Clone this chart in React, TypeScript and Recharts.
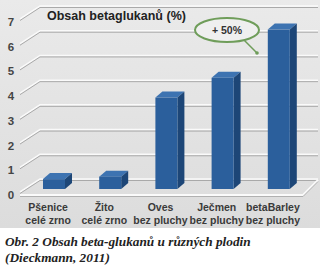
import { BarChart, Bar, XAxis, YAxis } from "recharts"

const crops = ["Pšenice", "Žito", "Oves", "Ječmen", "betaBarley"]
const cropNotes = ["celé zrno", "celé zrno", "bez pluchy", "bez pluchy", "bez pluchy"]
const betaGlucan = [0.4, 0.5, 3.7, 4.5, 6.45]
const yTicks = [0, 1, 2, 3, 4, 5, 6, 7]

const data = crops.map((name, i) => ({ name, note: cropNotes[i], value: betaGlucan[i] }))

const W = 320
const H = 228
const MARGIN = { top: 16, right: 13, left: 0, bottom: 0 }
const Y_W = 26
const X_H = 39
const PLOT_L = MARGIN.left + Y_W
const PLOT_R = W - MARGIN.right
const DEPTH = 7
const RISE = 6
const font = "Liberation Sans, Arial, sans-serif"

// y tick label + perspective grid line (left wall, then back wall)
function YTickGrid(props: any) {
  const { y, payload } = props
  const front = y + 4
  const back = y - 9
  const lx = PLOT_L - 6
  const bx = PLOT_L + 14
  const ex = PLOT_R + 11
  const isFloor = payload.value === 0
  return (
    <g>
      <polyline points={`${lx},${front - 1} ${bx},${back - 1} ${ex},${back - 1}`} fill="none" stroke="#fafafa" strokeWidth={1.5} />
      <polyline points={`${lx},${front + 0.5} ${bx},${back + 0.5} ${ex},${back + 0.5}`} fill="none" stroke="#a9a9a9" strokeWidth={1} />
      {isFloor && (
        <g>
          <polyline points={`${lx},${front + 2} ${PLOT_R - 4},${front + 2} ${ex},${back}`} fill="none" stroke="#fafafa" strokeWidth={2} />
          <polyline points={`${lx},${front + 3.5} ${PLOT_R - 4},${front + 3.5} ${ex},${back + 1.5}`} fill="none" stroke="#b0b0b0" strokeWidth={1} />
        </g>
      )}
      <text x={11} y={y + 10} textAnchor="middle" fontSize={11.5} fontWeight={700} fill="#454545" fontFamily={font}>
        {payload.value}
      </text>
    </g>
  )
}

function Bar3D(props: any) {
  const { x, y, width, height } = props
  if (height == null || height <= 0) return null
  return (
    <g>
      <polygon
        points={`${x},${y} ${x + DEPTH},${y - RISE} ${x + width + DEPTH},${y - RISE} ${x + width},${y}`}
        fill="#3d73b1"
      />
      <polygon
        points={`${x + width},${y} ${x + width + DEPTH},${y - RISE} ${x + width + DEPTH},${y + height - RISE} ${x + width},${y + height}`}
        fill="#1d4677"
      />
      <rect x={x} y={y} width={width} height={height} fill="#2b5f9c" />
    </g>
  )
}

function XTick(props: any) {
  const { x, y, payload, index } = props
  return (
    <text x={x - 6} textAnchor="middle" fontSize={10.5} fontWeight={700} fill="#3a3a3a" fontFamily={font}>
      <tspan x={x - 6} y={y + 14}>{payload.value}</tspan>
      <tspan x={x - 6} y={y + 27}>{cropNotes[index]}</tspan>
    </text>
  )
}

export default function App() {
  return (
    <div style={{ position: "absolute", left: 0, top: 0, width: 328, height: 267, background: "#fff" }}>
      <div style={{ position: "absolute", left: 0, top: 0, width: W, height: H, background: "linear-gradient(#eaeaea, #dcdcdc)" }}>
        {/* back layer: walls, grid and axis labels */}
        <div style={{ position: "absolute", left: 0, top: 0 }}>
          <BarChart width={W} height={H} data={data} margin={MARGIN} barSize={22}>
            <XAxis dataKey="name" axisLine={false} tickLine={false} height={X_H} interval={0} tick={<XTick />} />
            <YAxis domain={[0, 7]} ticks={yTicks} width={Y_W} axisLine={false} tickLine={false} tick={<YTickGrid />} />
            <Bar dataKey="value" fill="none" isAnimationActive={false} />
          </BarChart>
        </div>
        {/* front layer: the bars */}
        <div style={{ position: "absolute", left: 0, top: 0 }}>
          <BarChart width={W} height={H} data={data} margin={MARGIN} barSize={22}>
            <XAxis dataKey="name" axisLine={false} tickLine={false} height={X_H} interval={0} tick={false} />
            <YAxis domain={[0, 7]} ticks={yTicks} width={Y_W} axisLine={false} tickLine={false} tick={false} />
            <Bar dataKey="value" shape={<Bar3D />} isAnimationActive={false} />
          </BarChart>
        </div>
        <div style={{ position: "absolute", left: 47, top: 9, fontFamily: font, fontWeight: 700, fontSize: 12.5, color: "#222" }}>
          Obsah betaglukanů (%)
        </div>
        <svg style={{ position: "absolute", left: 0, top: 0 }} width={W} height={H}>
          <ellipse cx={227} cy={30} rx={32} ry={12} fill="#efefef" stroke="#6f9d5a" strokeWidth={2} />
          <line x1={244} y1={40} x2={257} y2={53} stroke="#6f9d5a" strokeWidth={1.5} />
          <circle cx={257} cy={53} r={1.8} fill="#6f9d5a" />
          <text x={227} y={34} textAnchor="middle" fontSize={10.5} fontWeight={700} fill="#333" fontFamily={font}>
            + 50%
          </text>
        </svg>
      </div>
      <div style={{ position: "absolute", left: 5, top: 234, fontFamily: "'Liberation Serif', 'Times New Roman', serif", fontStyle: "italic", fontWeight: 700, fontSize: 13.3, lineHeight: "16px", color: "#222" }}>
        Obr. 2 Obsah beta-glukanů u různých plodin
        <br />
        (Dieckmann, 2011)
      </div>
    </div>
  )
}
